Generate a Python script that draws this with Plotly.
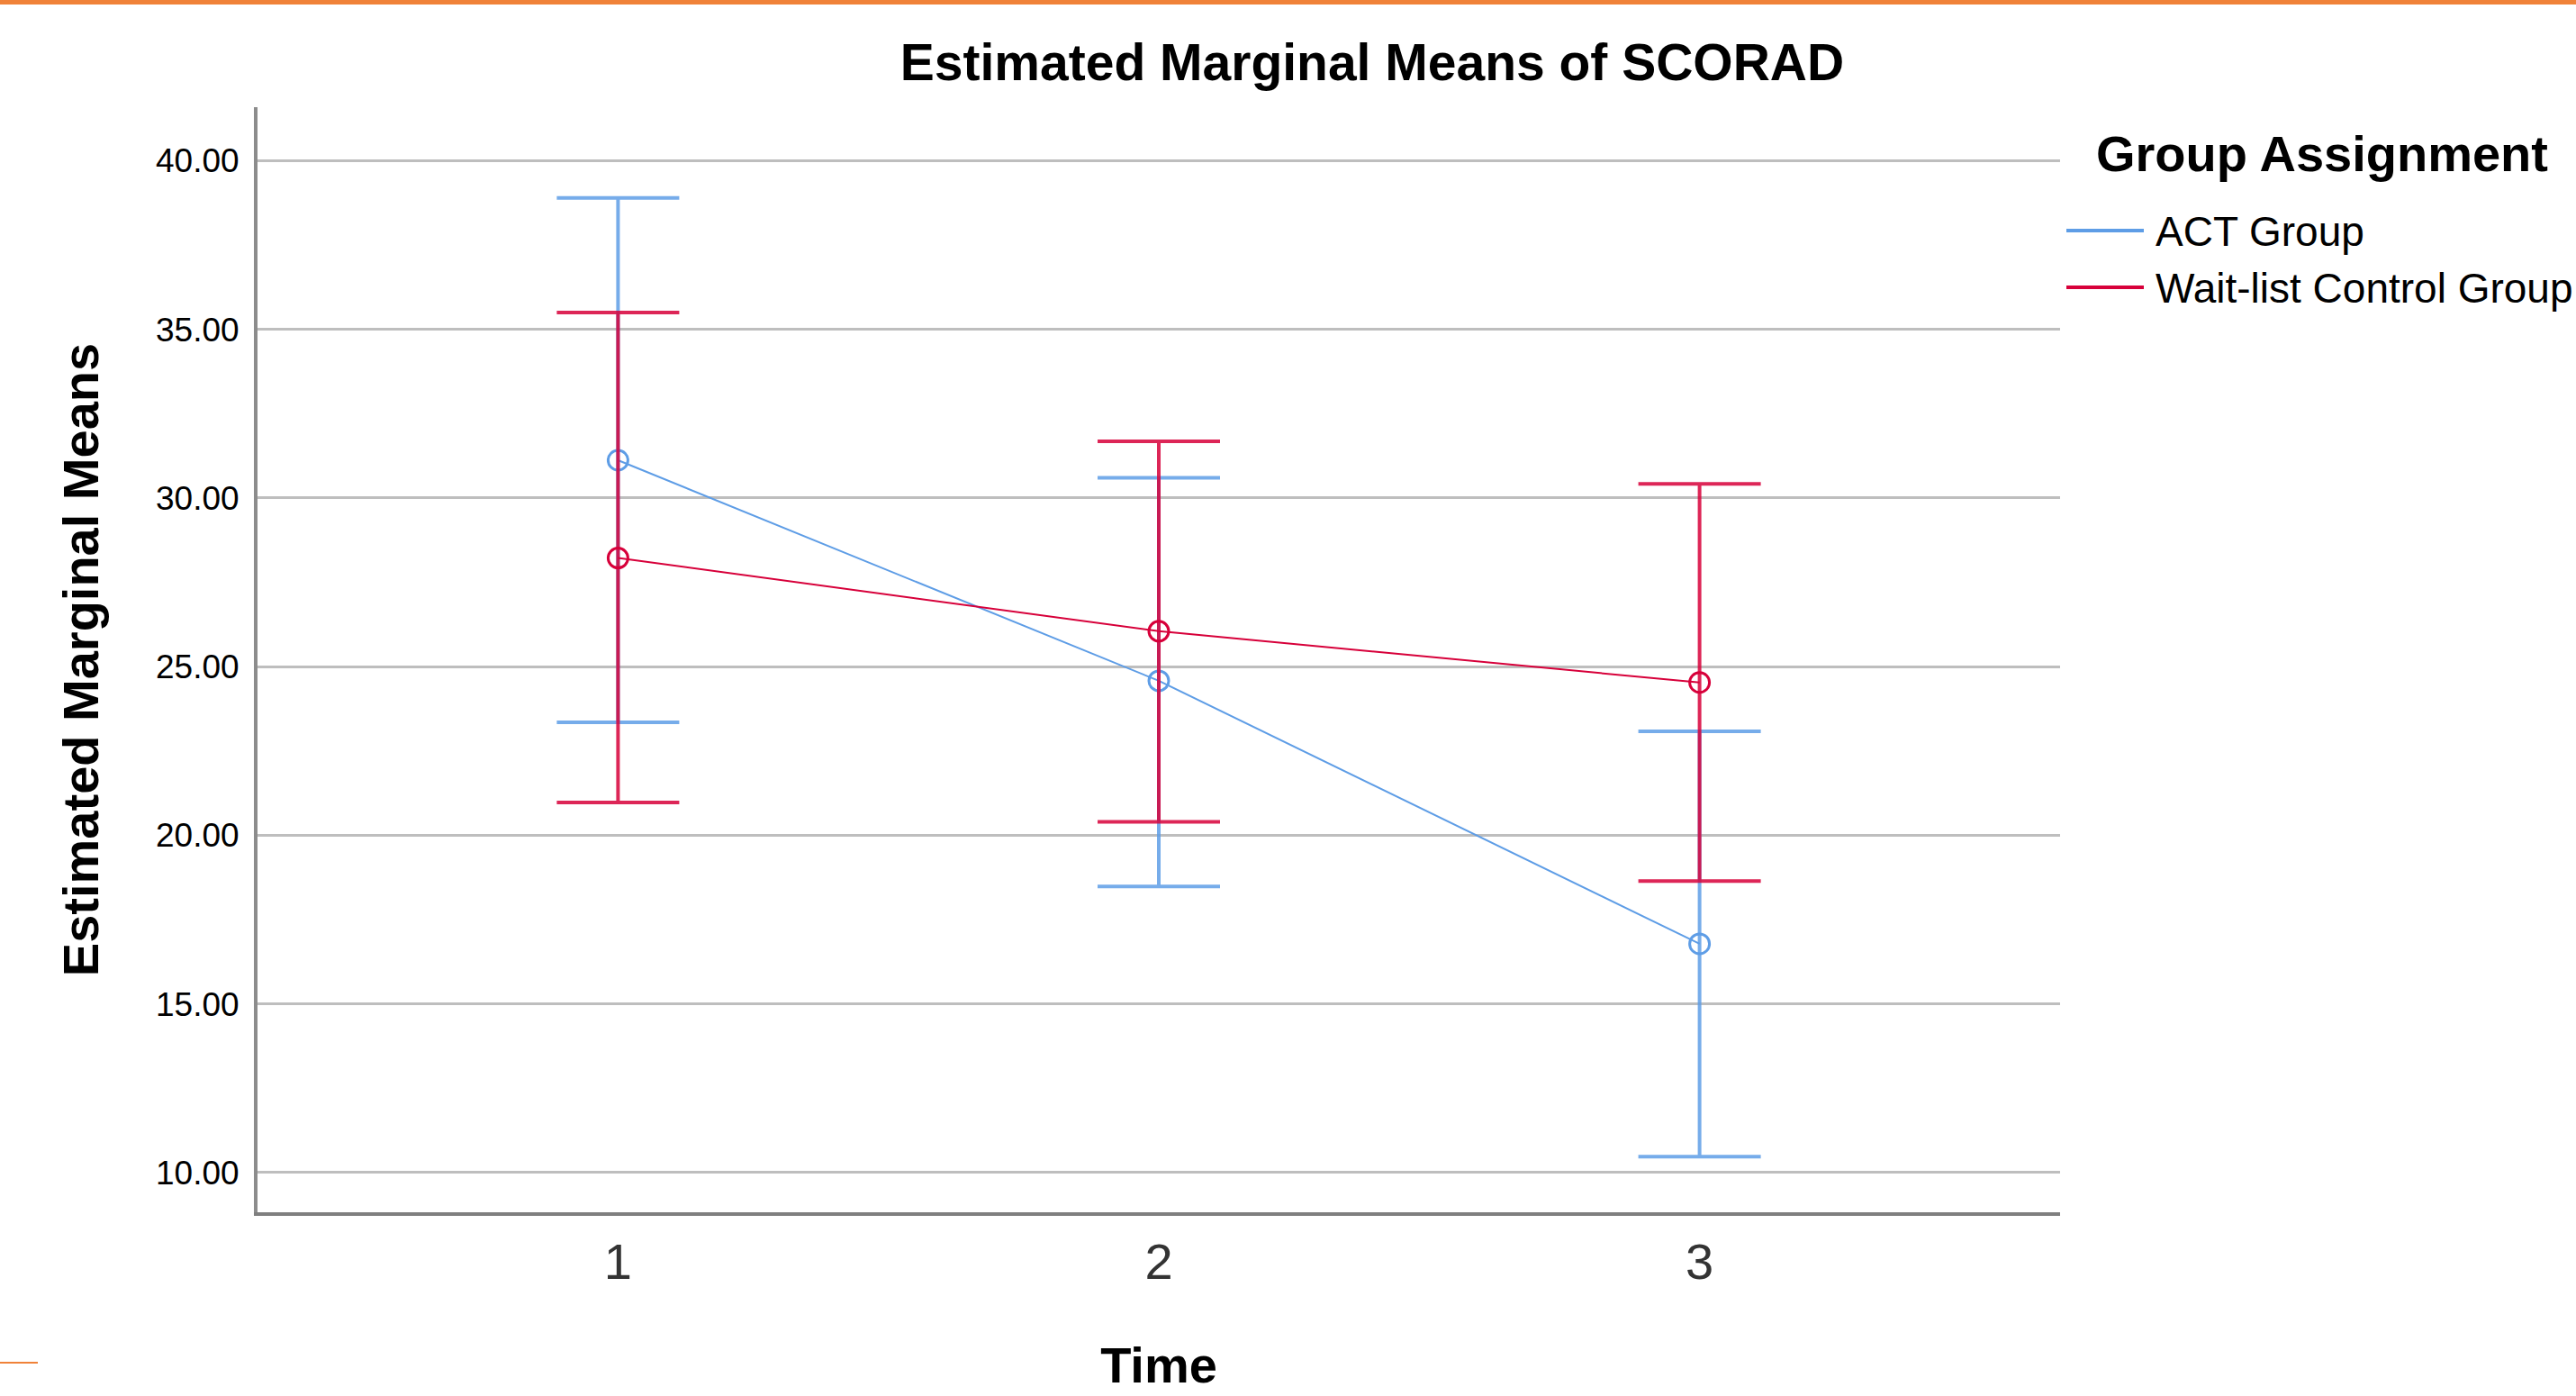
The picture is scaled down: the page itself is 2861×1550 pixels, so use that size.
import plotly.graph_objects as go

# ---- data ----
time_points = [1, 2, 3]
group_names = ["ACT Group", "Wait-list Control Group"]

act_mean = [31.12, 24.58, 16.78]
act_upper = [38.90, 30.60, 23.08]
act_lower = [23.35, 18.48, 10.47]

wl_mean = [28.22, 26.05, 24.53]
wl_upper = [35.50, 31.68, 30.42]
wl_lower = [20.97, 20.40, 18.64]

y_tick_values = [10, 15, 20, 25, 30, 35, 40]
x_tick_labels = ["1", "2", "3"]

# ---- styling ----
W, H = 2861, 1550
ML, MR, MT, MB = 286, 573, 119, 204
FONT = "Liberation Sans, Arial, sans-serif"
BLUE = "#5E9DE6"
RED = "#D7003A"
BLUE_ERR = "rgba(94,157,230,0.85)"
RED_ERR = "rgba(215,0,58,0.85)"

plot_w = W - ML - MR
plot_h = H - MT - MB


def px_x(px):
    return (px - ML) / plot_w


def px_y(py):
    return (H - MB - py) / plot_h


series = [
    (group_names[0], act_mean, act_upper, act_lower, BLUE, BLUE_ERR),
    (group_names[1], wl_mean, wl_upper, wl_lower, RED, RED_ERR),
]

fig = go.Figure()
for name, mean, up, lo, col, ecol in series:
    fig.add_trace(go.Scatter(
        x=time_points, y=mean, name=name, mode="lines+markers",
        legendgroup=name, showlegend=False,
        line=dict(color=col, width=2),
        marker=dict(symbol="circle-open", size=22, color=col, line=dict(width=3, color=col)),
        error_y=dict(type="data", symmetric=False,
                     array=[u - m for u, m in zip(up, mean)],
                     arrayminus=[m - l for m, l in zip(mean, lo)],
                     color=ecol, thickness=4, width=68),
    ))
# legend entries (text only; the longer sample lines are drawn beside them)
for name, mean, up, lo, col, ecol in series:
    fig.add_trace(go.Scatter(
        x=[None], y=[None], name=name, mode="lines", legendgroup=name,
        line=dict(color="rgba(0,0,0,0)", width=0), showlegend=True, hoverinfo="skip",
    ))

shapes = [
    dict(type="rect", xref="paper", yref="paper",
         x0=px_x(0), x1=px_x(W), y0=px_y(0), y1=px_y(5),
         fillcolor="#F08239", line=dict(width=0)),
    dict(type="line", xref="paper", yref="paper",
         x0=px_x(0), x1=px_x(42), y0=px_y(1513), y1=px_y(1513),
         line=dict(color="#F08239", width=2)),
]
# legend sample lines
legend_rows_px = [256, 319]
for (name, mean, up, lo, col, ecol), ypx in zip(series, legend_rows_px):
    shapes.append(dict(type="line", xref="paper", yref="paper",
                       x0=px_x(2295), x1=px_x(2381), y0=px_y(ypx), y1=px_y(ypx),
                       line=dict(color=col, width=4)))

annotations = [
    dict(text="<b>Group Assignment</b>", xref="paper", yref="paper",
         x=px_x(2326), xanchor="left", y=px_y(170), yanchor="middle",
         showarrow=False, font=dict(size=56, family=FONT, color="black")),
]

fig.update_layout(
    width=W, height=H,
    margin=dict(l=ML, r=MR, t=MT, b=MB, autoexpand=False),
    paper_bgcolor="white", plot_bgcolor="white",
    font=dict(family=FONT, color="black"),
    title=dict(text="<b>Estimated Marginal Means of SCORAD</b>",
               font=dict(size=57, family=FONT, color="black"),
               xref="container", x=1524 / W, xanchor="center",
               yref="container", y=1 - 69 / H, yanchor="middle"),
    xaxis=dict(range=[1 / 3, 3 + 2 / 3], tickvals=time_points, ticktext=x_tick_labels,
               showgrid=False, zeroline=False, showline=True, linecolor="#7F7F7F", linewidth=4,
               ticks="", tickfont=dict(size=56, family=FONT, color="#333333"),
               ticklabelstandoff=3,
               title=dict(text="<b>Time</b>", font=dict(size=56, family=FONT), standoff=66)),
    yaxis=dict(range=[8.82, 41.59], tickvals=y_tick_values, tickformat=".2f",
               showgrid=True, gridcolor="#BEBEBE", gridwidth=3, zeroline=False,
               showline=True, linecolor="#8C8C8C", linewidth=4,
               ticks="", tickfont=dict(size=37, family=FONT, color="black"),
               ticklabelstandoff=9,
               title=dict(text="<b>Estimated Marginal Means</b>", font=dict(size=56, family=FONT),
                          standoff=46)),
    legend=dict(x=px_x(2354), xanchor="left", y=px_y(219), yanchor="top",
                font=dict(size=46, family=FONT, color="black"),
                bgcolor="rgba(0,0,0,0)", borderwidth=0, tracegroupgap=0),
    shapes=shapes,
    annotations=annotations,
    showlegend=True,
)

fig.write_html("out.html", config={"displayModeBar": False},
               post_script="document.body.style.margin='0';")
